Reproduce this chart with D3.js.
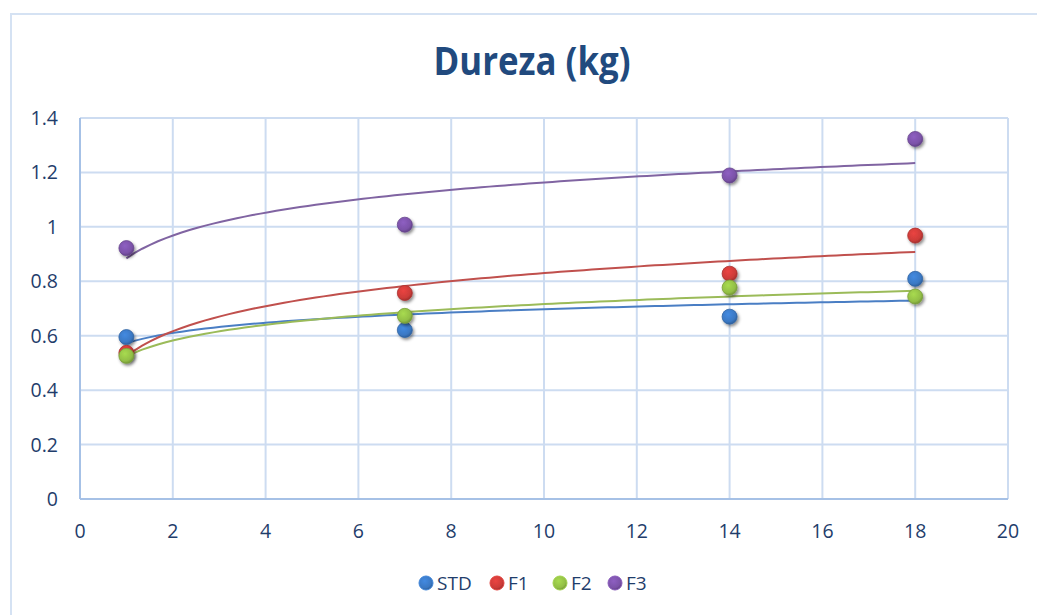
<!DOCTYPE html>
<html>
<head>
<meta charset="utf-8">
<script src="https://cdn.jsdelivr.net/npm/d3@7"></script>
<style>
  body { margin: 0; background: #fff; }
  text { font-family: "Open Sans", "Noto Sans", sans-serif; fill: #1F3D6B; }
</style>
</head>
<body>
<svg width="1037" height="615"></svg>
<script>
var days = [1, 7, 14, 18];
var seriesNames = ["STD", "F1", "F2", "F3"];
var stdValues = [0.595, 0.621, 0.670, 0.809];
var f1Values = [0.537, 0.757, 0.828, 0.968];
var f2Values = [0.526, 0.673, 0.777, 0.744];
var f3Values = [0.922, 1.008, 1.189, 1.323];
var xTicks = [0, 2, 4, 6, 8, 10, 12, 14, 16, 18, 20];
var yTicks = [0, 0.2, 0.4, 0.6, 0.8, 1, 1.2, 1.4];

var colors = ["#3A78C3", "#CC3B38", "#92BE45", "#7B52A8"];
var lineColors = ["#4A7EC4", "#C0504D", "#9BBB59", "#8064A2"];

var svg = d3.select("svg"),
    margin = {left: 80, right: 1037 - 1008, top: 118, bottom: 615 - 499},
    width = 1037 - margin.left - margin.right,
    height = 615 - margin.top - margin.bottom;

// chart frame
svg.append("rect")
    .attr("x", 11).attr("y", 14)
    .attr("width", 1040).attr("height", 620)
    .attr("fill", "none")
    .attr("stroke", "#D5E2F3")
    .attr("stroke-width", 2);

var defs = svg.append("defs");
var shadow = defs.append("filter").attr("id", "shadow")
    .attr("x", "-50%").attr("y", "-50%").attr("width", "200%").attr("height", "200%");
shadow.append("feDropShadow")
    .attr("dx", 1.5).attr("dy", 2).attr("stdDeviation", 1.6)
    .attr("flood-color", "#000").attr("flood-opacity", 0.45);

colors.forEach(function (c, i) {
    var grad = defs.append("radialGradient").attr("id", "grad" + i)
        .attr("cx", "40%").attr("cy", "35%").attr("r", "65%");
    grad.append("stop").attr("offset", "0%").attr("stop-color", d3.color(c).brighter(0.4));
    grad.append("stop").attr("offset", "75%").attr("stop-color", c);
    grad.append("stop").attr("offset", "100%").attr("stop-color", d3.color(c).darker(0.6));
});

var g = svg.append("g").attr("transform", "translate(" + margin.left + "," + margin.top + ")");

var x = d3.scaleLinear().domain([0, 20]).range([0, width]);
var y = d3.scaleLinear().domain([0, 1.4]).range([height, 0]);

// gridlines
g.selectAll(".hgrid").data(yTicks).enter().append("line")
    .attr("x1", 0).attr("x2", width)
    .attr("y1", function (d) { return y(d); })
    .attr("y2", function (d) { return y(d); })
    .attr("stroke", "#CDDCF1").attr("stroke-width", 2);
g.selectAll(".vgrid").data(xTicks).enter().append("line")
    .attr("y1", 0).attr("y2", height)
    .attr("x1", function (d) { return x(d); })
    .attr("x2", function (d) { return x(d); })
    .attr("stroke", "#CDDCF1").attr("stroke-width", 2);

// axis lines
g.append("line").attr("x1", 0).attr("x2", width).attr("y1", height).attr("y2", height)
    .attr("stroke", "#A6C1E6").attr("stroke-width", 2);
g.append("line").attr("x1", 0).attr("x2", 0).attr("y1", 0).attr("y2", height)
    .attr("stroke", "#A6C1E6").attr("stroke-width", 2);

// tick labels
g.selectAll(".ylab").data(yTicks).enter().append("text")
    .attr("x", -22)
    .attr("y", function (d) { return y(d) + 7; })
    .attr("text-anchor", "end")
    .style("font-size", "19.5px")
    .text(function (d) { return d; });
g.selectAll(".xlab").data(xTicks).enter().append("text")
    .attr("x", function (d) { return x(d); })
    .attr("y", height + 39)
    .attr("text-anchor", "middle")
    .style("font-size", "19.5px")
    .text(function (d) { return d; });

// title
svg.append("text")
    .attr("x", 532).attr("y", 75)
    .attr("text-anchor", "middle")
    .attr("textLength", 197).attr("lengthAdjust", "spacingAndGlyphs")
    .style("font-size", "39px").style("font-weight", "bold").style("fill", "#214A7E")
    .text("Dureza (kg)");

var allSeries = [stdValues, f1Values, f2Values, f3Values];

// logarithmic trendlines, y = a ln(x) + b
function logFit(xs, ys) {
    var lx = xs.map(Math.log),
        mx = d3.mean(lx), my = d3.mean(ys);
    var sxy = d3.sum(lx, function (v, i) { return (v - mx) * (ys[i] - my); }),
        sxx = d3.sum(lx, function (v) { return (v - mx) * (v - mx); });
    var a = sxy / sxx;
    return {a: a, b: my - a * mx};
}

var line = d3.line()
    .x(function (d) { return x(d[0]); })
    .y(function (d) { return y(d[1]); });

var steps = d3.range(0, 101).map(function (i) { return 1 + i * (18 - 1) / 100; });

allSeries.forEach(function (vals, i) {
    var fit = logFit(days, vals);
    g.append("path")
        .datum(steps.map(function (t) { return [t, fit.a * Math.log(t) + fit.b]; }))
        .attr("d", line)
        .attr("fill", "none")
        .attr("stroke", lineColors[i])
        .attr("stroke-width", 2);
});

// points (drawn in series order: STD, F1, F2, F3)
allSeries.forEach(function (vals, i) {
    g.selectAll(".pt" + i).data(vals).enter().append("circle")
        .attr("cx", function (d, j) { return x(days[j]); })
        .attr("cy", function (d) { return y(d); })
        .attr("r", 7.5)
        .attr("fill", "url(#grad" + i + ")")
        .attr("stroke", d3.color(colors[i]).darker(0.5))
        .attr("stroke-width", 0.8)
        .attr("filter", "url(#shadow)");
});

// legend
var legendX = [426, 497, 560, 615];
var legend = svg.append("g");
seriesNames.forEach(function (name, i) {
    legend.append("circle")
        .attr("cx", legendX[i]).attr("cy", 583).attr("r", 7)
        .attr("fill", "url(#grad" + i + ")")
        .attr("stroke", d3.color(colors[i]).brighter(0.3))
        .attr("stroke-width", 1);
    legend.append("text")
        .attr("x", legendX[i] + 11).attr("y", 590)
        .style("font-size", "19px")
        .text(name);
});
</script>
</body>
</html>
